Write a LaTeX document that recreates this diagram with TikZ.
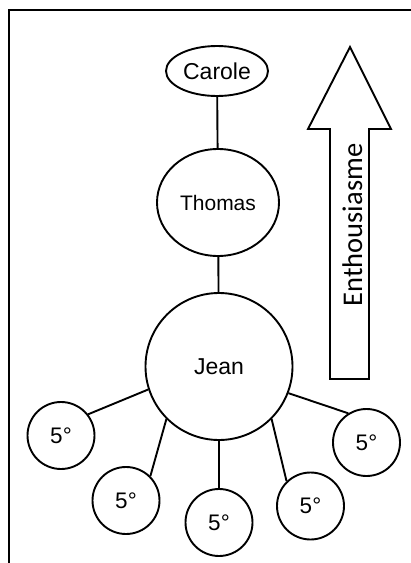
\documentclass[tikz,border=0pt]{standalone}
\usepackage{fontspec}
\setmainfont{Liberation Sans}
\newfontfamily\arrowfont{Carlito}
\usetikzlibrary{shapes.geometric}

\begin{document}
\begin{tikzpicture}[x=1pt,y=-1pt,
  person/.style={draw, line width=1.9pt, ellipse, inner sep=0pt},
  fifth/.style={draw, line width=1.9pt, circle, inner sep=0pt, minimum size=67pt,
    font=\fontsize{22.5}{26}\selectfont},
  link/.style={line width=1.9pt}
]
\useasboundingbox (0,0) rectangle (411,563);

% frame: top and left edges
\draw[line width=2.4pt] (411,10) -- (9,10) -- (9,563);

% people
\node[person, minimum width=102pt, minimum height=50pt, font=\fontsize{23}{27}\selectfont]
  (carole) at (217,71) {Carole};
\node[person, minimum width=122pt, minimum height=107pt, font=\fontsize{21}{25}\selectfont]
  (thomas) at (218,202.5) {Thomas};
\node[person, circle, minimum size=147pt, font=\fontsize{23}{27}\selectfont]
  (jean) at (219,366.5) {Jean};

% fifth-grade pupils around Jean
\node[fifth] (pa) at (61,435.5) {5°};
\node[fifth] (pb) at (126,500.5) {5°};
\node[fifth] (pc) at (219,522.5) {5°};
\node[fifth] (pd) at (310.5,506) {5°};
\node[fifth] (pe) at (366.5,442.5) {5°};

% links
\draw[link] (carole) -- (thomas);
\draw[link] (thomas) -- (jean);
\draw[link] (jean.198.6) -- (pa.38.8);
\draw[link] (jean.225.3) -- (pb.45.6);
\draw[link] (jean.270) -- (pc.90);
\draw[link] (jean.315.3) -- (pd.134.4);
\draw[link] (jean.339.4) -- (pe.122);

% enthusiasm arrow
\draw[line width=1.9pt, line join=miter]
  (350,47) -- (391,129) -- (369,129) -- (369,379) -- (330,379) -- (330,129) -- (308,129) -- cycle;
\node[rotate=90, anchor=base, inner sep=0pt, font=\arrowfont\fontsize{28.5}{32}\selectfont]
  (enth) at (362,225) {Enthousiasme};
\end{tikzpicture}
\end{document}
